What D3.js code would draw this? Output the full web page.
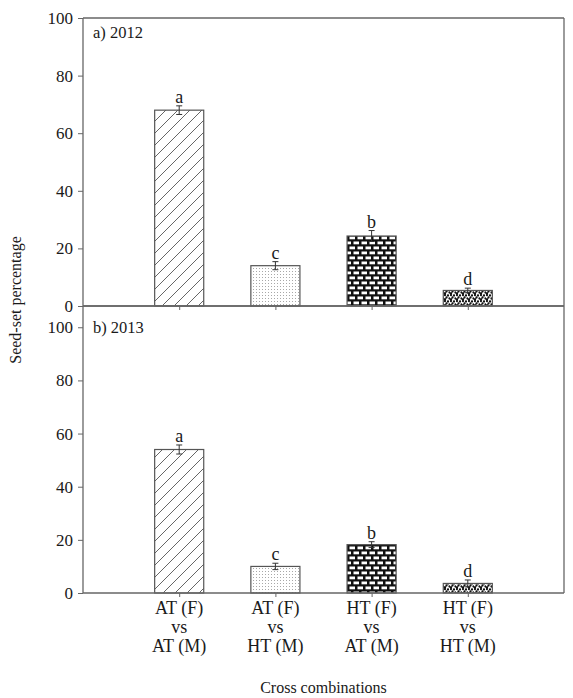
<!DOCTYPE html>
<html>
<head>
<meta charset="utf-8">
<script src="https://cdn.jsdelivr.net/npm/d3@7"></script>
<style>
  body { margin: 0; background: #fff; }
  svg { display: block; }
  text { font-family: "Liberation Serif", "Times New Roman", serif; fill: #1a1a1a; }
</style>
</head>
<body>
<svg id="chart" width="573" height="698"></svg>
<script>
// ---- data ----
const categories = [["AT (F)", "vs", "AT (M)"], ["AT (F)", "vs", "HT (M)"], ["HT (F)", "vs", "AT (M)"], ["HT (F)", "vs", "HT (M)"]];
const values2012 = [68.0, 14.0, 24.3, 5.4];
const errors2012 = [1.5, 1.4, 1.9, 0.8];
const letters2012 = ["a", "c", "b", "d"];
const values2013 = [54.0, 10.0, 18.2, 3.6];
const errors2013 = [1.7, 1.2, 1.1, 1.3];
const letters2013 = ["a", "c", "b", "d"];
const yTicks = [0, 20, 40, 60, 80, 100];
const panelLabels = ["a) 2012", "b) 2013"];
const patternIds = ["hatch", "stipple", "brick", "dots"];

const svg = d3.select("#chart");
const axisColor = "#666";

// ---- patterns ----
const defs = svg.append("defs");
const ph = defs.append("pattern").attr("id", "hatch").attr("patternUnits", "userSpaceOnUse")
  .attr("width", 12).attr("height", 12);
ph.append("rect").attr("width", 12).attr("height", 12).attr("fill", "#fff");
ph.append("path").attr("d", "M0,12 L12,0 M-3,3 L3,-3 M9,15 L15,9")
  .attr("stroke", "#555").attr("stroke-width", 0.9);

const ps = defs.append("pattern").attr("id", "stipple").attr("patternUnits", "userSpaceOnUse")
  .attr("width", 3).attr("height", 3);
ps.append("rect").attr("width", 3).attr("height", 3).attr("fill", "#fff");
ps.append("rect").attr("x", 1).attr("y", 1).attr("width", 1).attr("height", 1).attr("fill", "#a8a8a8");

const pb = defs.append("pattern").attr("id", "brick").attr("patternUnits", "userSpaceOnUse")
  .attr("width", 8).attr("height", 10);
pb.append("rect").attr("width", 8).attr("height", 10).attr("fill", "#111");
pb.append("rect").attr("x", 1.5).attr("y", 1.5).attr("width", 5.5).attr("height", 2.8).attr("fill", "#fff");
pb.append("rect").attr("x", -2.5).attr("y", 6.5).attr("width", 5.5).attr("height", 2.8).attr("fill", "#fff");
pb.append("rect").attr("x", 5.5).attr("y", 6.5).attr("width", 5.5).attr("height", 2.8).attr("fill", "#fff");

const pd = defs.append("pattern").attr("id", "dots").attr("patternUnits", "userSpaceOnUse")
  .attr("width", 6).attr("height", 6);
pd.append("rect").attr("width", 6).attr("height", 6).attr("fill", "#fff");
[[1, 1], [4, 1.5], [2.5, 3.5], [5.5, 4.5], [1, 5.2]].forEach(([cx, cy]) =>
  pd.append("circle").attr("cx", cx).attr("cy", cy).attr("r", 1.15).attr("fill", "#111"));

// ---- scales ----
const left = 83, right = 564;
const x = d3.scaleLinear().domain([0, 5]).range([left, right]);
const barW = x(0.51) - x(0);

const panels = [
  { y: d3.scaleLinear().domain([0, 100]).range([306, 18]), vals: values2012, errs: errors2012, letters: letters2012, label: panelLabels[0], top: 18, bottom: 306, showX: false },
  { y: d3.scaleLinear().domain([0, 108]).range([593, 306]), vals: values2013, errs: errors2013, letters: letters2013, label: panelLabels[1], top: 306, bottom: 593, showX: true }
];

panels.forEach((p, pi) => {
  const g = svg.append("g");
  // frame
  g.append("line").attr("x1", left).attr("x2", right).attr("y1", p.top).attr("y2", p.top)
    .attr("stroke", axisColor).attr("stroke-width", 1.3);
  g.append("line").attr("x1", right).attr("x2", right).attr("y1", p.top).attr("y2", p.bottom)
    .attr("stroke", axisColor).attr("stroke-width", 1.3);

  // bars
  const idx = d3.range(p.vals.length);
  g.selectAll("rect.bar").data(idx).join("rect").attr("class", "bar")
    .attr("x", i => x(i + 1) - barW / 2)
    .attr("width", barW)
    .attr("y", i => p.y(p.vals[i]))
    .attr("height", i => p.y(0) - p.y(p.vals[i]))
    .attr("fill", i => `url(#${patternIds[i]})`)
    .attr("stroke", "#555").attr("stroke-width", 1.2);

  // error bars
  const eb = g.selectAll("g.err").data(idx).join("g").attr("class", "err")
    .attr("stroke", "#333").attr("stroke-width", 1);
  eb.append("line").attr("x1", i => x(i + 1)).attr("x2", i => x(i + 1))
    .attr("y1", i => p.y(p.vals[i] + p.errs[i])).attr("y2", i => p.y(p.vals[i] - p.errs[i]));
  eb.append("line").attr("x1", i => x(i + 1) - 3).attr("x2", i => x(i + 1) + 3)
    .attr("y1", i => p.y(p.vals[i] + p.errs[i])).attr("y2", i => p.y(p.vals[i] + p.errs[i]));
  eb.append("line").attr("x1", i => x(i + 1) - 3).attr("x2", i => x(i + 1) + 3)
    .attr("y1", i => p.y(p.vals[i] - p.errs[i])).attr("y2", i => p.y(p.vals[i] - p.errs[i]));

  // letters
  g.selectAll("text.let").data(idx).join("text").attr("class", "let")
    .attr("x", i => x(i + 1)).attr("y", i => p.y(p.vals[i] + p.errs[i]) - 3)
    .attr("text-anchor", "middle").attr("font-size", 18).text(i => p.letters[i]);

  // y axis
  const ya = g.append("g").attr("transform", `translate(${left},0)`)
    .call(d3.axisLeft(p.y).tickValues(yTicks).tickSize(5).tickPadding(5));
  ya.select(".domain").attr("d", `M0,${p.top}V${p.bottom}`).attr("stroke", axisColor).attr("stroke-width", 1.3);
  ya.selectAll(".tick line").attr("stroke", axisColor);
  ya.selectAll(".tick text").attr("font-size", 17).attr("font-family", "Liberation Serif").attr("fill", "#1a1a1a");

  // x axis
  const xa = g.append("g").attr("transform", `translate(0,${p.bottom})`)
    .call(d3.axisBottom(x).tickValues([1, 2, 3, 4]).tickSize(4).tickFormat(""));
  xa.select(".domain").attr("d", `M${left},0H${right}`).attr("stroke", axisColor).attr("stroke-width", 1.3);
  xa.selectAll(".tick line").attr("stroke", axisColor);

  if (p.showX) {
    categories.forEach((lines, i) => {
      lines.forEach((ln, k) => {
        g.append("text").attr("x", x(i + 1)).attr("y", 614 + k * 19)
          .attr("text-anchor", "middle").attr("font-size", 18).text(ln);
      });
    });
  }

  // panel label
  g.append("text").attr("x", 93).attr("y", pi === 0 ? 38 : 333)
    .attr("font-size", 16.5).text(p.label);
});

// axis titles
svg.append("text").attr("x", (left + right) / 2).attr("y", 693).attr("text-anchor", "middle")
  .attr("font-size", 16).text("Cross combinations");
svg.append("text").attr("transform", "translate(21,300) rotate(-90)").attr("text-anchor", "middle")
  .attr("font-size", 16).text("Seed-set percentage");
</script>
</body>
</html>
